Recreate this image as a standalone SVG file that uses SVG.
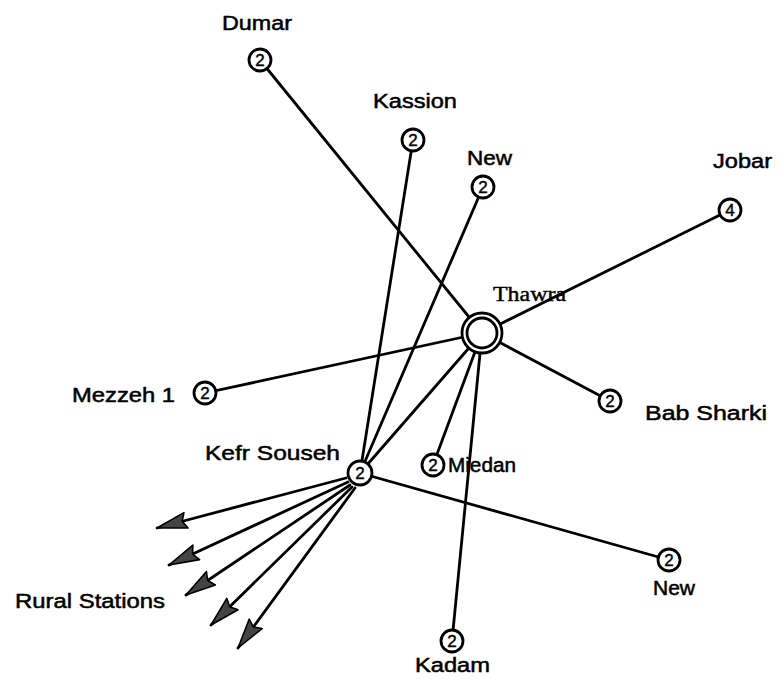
<svg xmlns="http://www.w3.org/2000/svg" width="780" height="679" viewBox="0 0 780 679">
<style>
.bg{fill:#fff}
.ln{stroke:#000;stroke-width:2.8;fill:none;stroke-linecap:round}
.nd{fill:#fff;stroke:#000;stroke-width:2.8}
.num{font-family:"Liberation Sans",Arial,sans-serif;font-size:17px;text-anchor:middle;fill:#000;stroke:#000;stroke-width:0.4}
.lb{font-family:"Liberation Sans",Arial,sans-serif;font-size:20px;fill:#000;stroke:#000;stroke-width:0.5}
.sr{font-family:"Liberation Serif","Times New Roman",serif;font-size:20px;fill:#000;stroke:#000;stroke-width:0.4}
</style>
<defs>
<marker id="ah" markerUnits="userSpaceOnUse" markerWidth="34" markerHeight="20" refX="31" refY="10" orient="auto">
<path d="M1,2 L31,10 L1,18 L5,10 Z" fill="#444" stroke="#000" stroke-width="1.6" stroke-linejoin="round"/>
</marker>
</defs>
<rect class="bg" x="0" y="0" width="780" height="679"/>
<g id="connectors">
<line class="ln" x1="260" y1="60" x2="482" y2="333"/>
<line class="ln" x1="730" y1="210" x2="482" y2="333"/>
<line class="ln" x1="205" y1="393" x2="482" y2="333"/>
<line class="ln" x1="610" y1="401" x2="482" y2="333"/>
<line class="ln" x1="433" y1="465" x2="482" y2="333"/>
<line class="ln" x1="452" y1="641" x2="482" y2="333"/>
<line class="ln" x1="360" y1="473" x2="482" y2="333"/>
<line class="ln" x1="413" y1="140" x2="360" y2="473"/>
<line class="ln" x1="483" y1="187" x2="360" y2="473"/>
<line class="ln" x1="360" y1="473" x2="669" y2="560"/>
<line class="ln" x1="346" y1="478" x2="157" y2="528" marker-end="url(#ah)"/>
<line class="ln" x1="348" y1="482" x2="169" y2="565" marker-end="url(#ah)"/>
<line class="ln" x1="350" y1="485" x2="186" y2="595" marker-end="url(#ah)"/>
<line class="ln" x1="352" y1="487" x2="211" y2="625" marker-end="url(#ah)"/>
<line class="ln" x1="355" y1="488" x2="238" y2="648" marker-end="url(#ah)"/>
</g>
<g id="dumar"><circle class="nd" cx="260" cy="60" r="11"/><text class="num" x="260" y="66">2</text><text class="lb" x="222" y="30" textLength="70" lengthAdjust="spacingAndGlyphs">Dumar</text></g>
<g id="kassion"><circle class="nd" cx="413" cy="140" r="11"/><text class="num" x="413" y="146">2</text><text class="lb" x="373" y="108" textLength="84" lengthAdjust="spacingAndGlyphs">Kassion</text></g>
<g id="new-top"><circle class="nd" cx="483" cy="187" r="11"/><text class="num" x="483" y="193">2</text><text class="lb" x="467" y="165" textLength="45" lengthAdjust="spacingAndGlyphs">New</text></g>
<g id="jobar"><circle class="nd" cx="730" cy="210" r="11"/><text class="num" x="730" y="216">4</text><text class="lb" x="713" y="168" textLength="59" lengthAdjust="spacingAndGlyphs">Jobar</text></g>
<g id="thawra"><circle class="nd" cx="482" cy="333" r="20"/><circle class="nd" cx="482" cy="333" r="15"/><text class="sr" x="493" y="301" textLength="73" lengthAdjust="spacingAndGlyphs">Thawra</text></g>
<g id="mezzeh1"><circle class="nd" cx="205" cy="393" r="11"/><text class="num" x="205" y="399">2</text><text class="lb" x="72" y="402" textLength="103" lengthAdjust="spacingAndGlyphs">Mezzeh 1</text></g>
<g id="bab-sharki"><circle class="nd" cx="610" cy="401" r="11"/><text class="num" x="610" y="407">2</text><text class="lb" x="645" y="420" textLength="122" lengthAdjust="spacingAndGlyphs">Bab Sharki</text></g>
<g id="miedan"><circle class="nd" cx="433" cy="465" r="11"/><text class="num" x="433" y="471">2</text><text class="lb" x="448" y="472" textLength="68" lengthAdjust="spacingAndGlyphs">Miedan</text></g>
<g id="kefr-souseh"><circle class="nd" cx="360" cy="473" r="12"/><text class="num" x="360" y="479">2</text><text class="lb" x="205" y="460" textLength="135" lengthAdjust="spacingAndGlyphs">Kefr Souseh</text></g>
<g id="new-lower"><circle class="nd" cx="669" cy="560" r="11"/><text class="num" x="669" y="566">2</text><text class="lb" x="653" y="595" textLength="42" lengthAdjust="spacingAndGlyphs">New</text></g>
<g id="kadam"><circle class="nd" cx="452" cy="641" r="11"/><text class="num" x="452" y="647">2</text><text class="lb" x="415" y="672" textLength="75" lengthAdjust="spacingAndGlyphs">Kadam</text></g>
<g id="rural-stations"><text class="lb" x="15" y="608" textLength="150" lengthAdjust="spacingAndGlyphs">Rural Stations</text></g>
</svg>
